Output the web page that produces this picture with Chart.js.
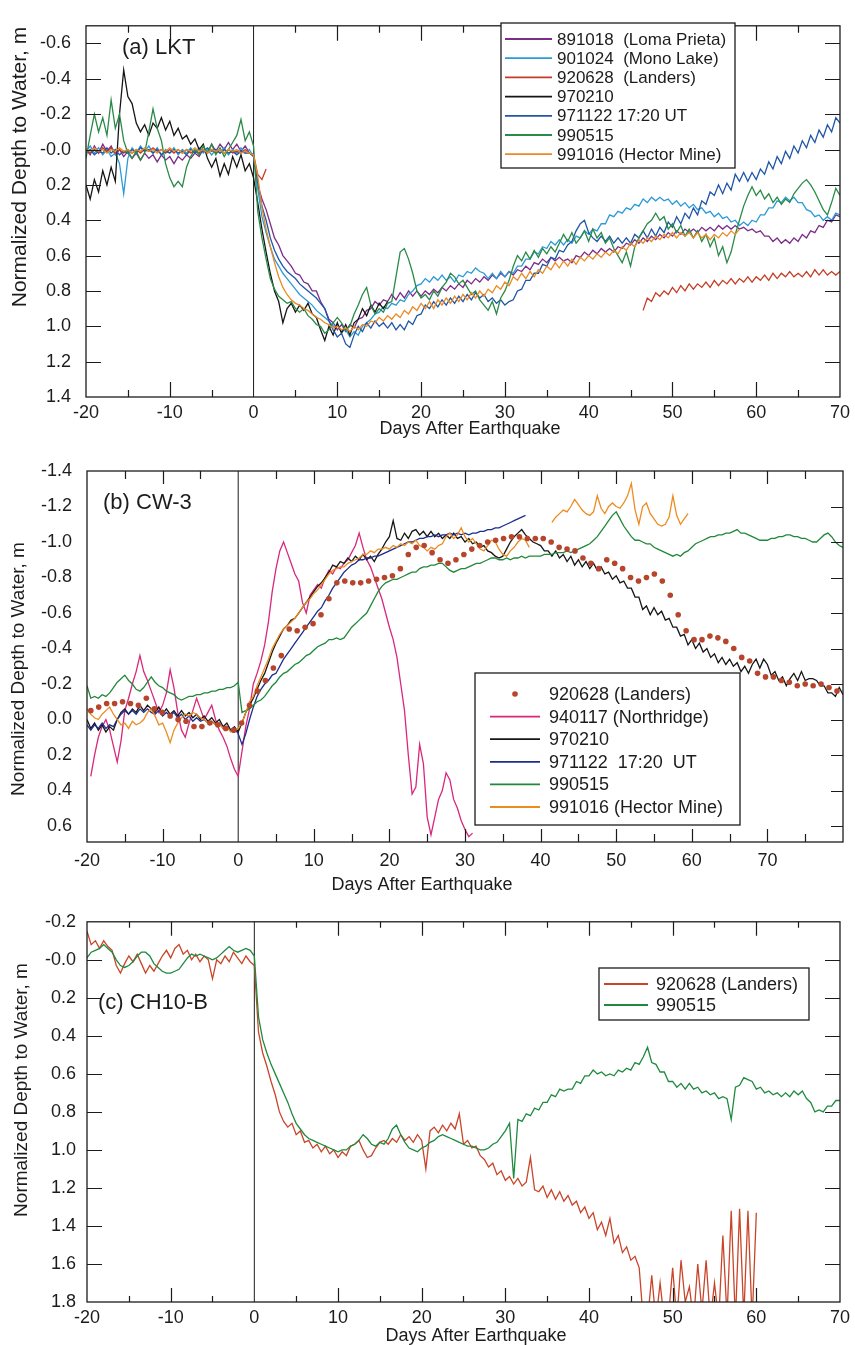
<!DOCTYPE html>
<html>
<head>
<meta charset="utf-8">
<script src="https://cdn.jsdelivr.net/npm/chart.js@4.4.1/dist/chart.umd.min.js"></script>
<style>
  html, body { margin: 0; padding: 0; background: #fff; }
  #page { position: relative; width: 855px; height: 1345px; }
  .panel { position: absolute; left: 0; width: 855px; }
</style>
</head>
<body>
<div id="page">
  <div class="panel" style="top:0;height:445px"><canvas id="chartA" width="855" height="445"></canvas></div>
  <div class="panel" style="top:445px;height:455px"><canvas id="chartB" width="855" height="455"></canvas></div>
  <div class="panel" style="top:900px;height:445px"><canvas id="chartC" width="855" height="445"></canvas></div>
</div>
<script>
const FONT = '"Liberation Sans", Arial, Helvetica, sans-serif';
const INK = '#1c1c1c';

// axis ticks / labels
const xTicksA = [-20, -10, 0, 10, 20, 30, 40, 50, 60, 70];
const xTicksB = [-20, -10, 0, 10, 20, 30, 40, 50, 60, 70];
const xTicksC = [-20, -10, 0, 10, 20, 30, 40, 50, 60, 70];
const yTicksA = [-0.6, -0.4, -0.2, 0, 0.2, 0.4, 0.6, 0.8, 1.0, 1.2, 1.4];
const yLabelsA = ['-0.6', '-0.4', '-0.2', '-0.0', '0.2', '0.4', '0.6', '0.8', '1.0', '1.2', '1.4'];
const yTicksB = [-1.4, -1.2, -1.0, -0.8, -0.6, -0.4, -0.2, 0, 0.2, 0.4, 0.6];
const yLabelsB = ['-1.4', '-1.2', '-1.0', '-0.8', '-0.6', '-0.4', '-0.2', '0.0', '0.2', '0.4', '0.6'];
const yTicksC = [-0.2, 0, 0.2, 0.4, 0.6, 0.8, 1.0, 1.2, 1.4, 1.6, 1.8];
const yLabelsC = ['-0.2', '-0.0', '0.2', '0.4', '0.6', '0.8', '1.0', '1.2', '1.4', '1.6', '1.8'];

// ---- (a) LKT, half-day samples from day -20 ----
const lkt891018 = [
  0.00, 0.03, -0.02, 0.02, -0.03, 0.01, -0.02, 0.03, 0.00, 0.04, 0.01, 0.05, 0.02, 0.06, 0.02, 0.05, 0.03, 0.07, 0.03, 0.06,
  0.04, 0.08, 0.04, 0.06, 0.03, 0.05, 0.02, 0.04, 0.00, 0.02, -0.03, 0.01, -0.03, 0.00, -0.04, 0.00, -0.03, 0.01, -0.02, 0.02,
  0.03, 0.20, 0.28, 0.34, 0.42, 0.50, 0.54, 0.60, 0.63, 0.66, 0.70, 0.71, 0.75, 0.76, 0.80, 0.80, 0.86, 0.90, 0.96, 0.98,
  1.02, 0.99, 1.03, 0.99, 1.01, 0.96, 0.95, 0.91, 0.90, 0.86, 0.88, 0.85, 0.86, 0.82, 0.85, 0.81, 0.84, 0.80, 0.83, 0.80,
  0.83, 0.80, 0.82, 0.79, 0.81, 0.78, 0.80, 0.77, 0.79, 0.76, 0.78, 0.74, 0.76, 0.73, 0.75, 0.72, 0.74, 0.71, 0.73, 0.70,
  0.72, 0.69, 0.71, 0.68, 0.69, 0.66, 0.68, 0.64, 0.65, 0.62, 0.64, 0.61, 0.63, 0.61, 0.63, 0.62, 0.64, 0.60, 0.61, 0.58,
  0.60, 0.57, 0.59, 0.56, 0.58, 0.56, 0.58, 0.55, 0.56, 0.53, 0.54, 0.51, 0.53, 0.50, 0.52, 0.49, 0.51, 0.48, 0.50, 0.47,
  0.49, 0.46, 0.48, 0.45, 0.47, 0.45, 0.47, 0.44, 0.46, 0.44, 0.46, 0.43, 0.45, 0.43, 0.45, 0.43, 0.45, 0.44, 0.46, 0.45,
  0.47, 0.46, 0.49, 0.49, 0.52, 0.50, 0.53, 0.51, 0.53, 0.50, 0.52, 0.48, 0.50, 0.46, 0.47, 0.43, 0.44, 0.40, 0.41, 0.37,
  0.38
];
const lkt901024 = [
  0.01, -0.02, 0.02, -0.01, 0.03, 0.00, 0.04, 0.02, 0.08, 0.25, 0.05, -0.01, 0.02, -0.02, 0.01, -0.02, 0.02, -0.01, 0.03, 0.00,
  0.02, -0.01, 0.03, 0.00, 0.02, -0.01, 0.02, -0.01, 0.02, 0.00, 0.03, 0.00, 0.02, -0.01, 0.03, 0.00, 0.02, -0.01, 0.02, 0.00,
  0.04, 0.22, 0.38, 0.47, 0.55, 0.62, 0.66, 0.70, 0.73, 0.76, 0.79, 0.82, 0.84, 0.86, 0.88, 0.91, 0.93, 0.95, 0.97, 1.00,
  0.99, 1.03, 1.02, 1.06, 1.03, 1.05, 1.00, 0.98, 0.96, 0.93, 0.92, 0.89, 0.90, 0.87, 0.88, 0.85, 0.86, 0.82, 0.80, 0.77,
  0.76, 0.73, 0.75, 0.72, 0.74, 0.71, 0.74, 0.72, 0.75, 0.71, 0.72, 0.69, 0.70, 0.67, 0.69, 0.70, 0.73, 0.70, 0.73, 0.69,
  0.72, 0.69, 0.70, 0.66, 0.66, 0.62, 0.62, 0.58, 0.59, 0.55, 0.56, 0.52, 0.54, 0.51, 0.54, 0.51, 0.53, 0.49, 0.50, 0.46,
  0.48, 0.45, 0.46, 0.42, 0.42, 0.37, 0.38, 0.35, 0.36, 0.33, 0.34, 0.31, 0.32, 0.28, 0.30, 0.27, 0.29, 0.27, 0.29, 0.28,
  0.31, 0.29, 0.32, 0.30, 0.33, 0.31, 0.34, 0.33, 0.36, 0.35, 0.38, 0.36, 0.39, 0.38, 0.41, 0.40, 0.43, 0.41, 0.43, 0.40,
  0.41, 0.37, 0.37, 0.33, 0.33, 0.29, 0.30, 0.27, 0.29, 0.27, 0.30, 0.30, 0.34, 0.35, 0.38, 0.37, 0.40, 0.38, 0.40, 0.36,
  0.37
];
const lkt920628Early = [   // day -20 .. 1.5
  0.00, 0.02, 0.00, 0.02, -0.01, 0.01, -0.01, 0.02, 0.00, 0.02, 0.00, 0.02, 0.00, 0.02, 0.00, 0.01, -0.01, 0.01, 0.00, 0.02,
  0.00, 0.02, 0.00, 0.02, 0.00, 0.02, 0.01, 0.02, 0.00, 0.02, 0.00, 0.02, 0.00, 0.02, 0.00, 0.02, 0.01, 0.02, 0.00, 0.02,
  0.03, 0.14, 0.17, 0.11
];
const lkt920628Late = [    // day 46.5 .. 70
  0.91, 0.84, 0.86, 0.81, 0.83, 0.80, 0.82, 0.78, 0.81, 0.77, 0.80, 0.76, 0.79, 0.76, 0.78, 0.75, 0.78, 0.74, 0.77, 0.74,
  0.76, 0.73, 0.76, 0.73, 0.75, 0.72, 0.75, 0.72, 0.74, 0.71, 0.74, 0.70, 0.73, 0.70, 0.72, 0.69, 0.72, 0.70, 0.72, 0.69,
  0.72, 0.68, 0.71, 0.68, 0.71, 0.69, 0.71, 0.69
];
const lkt970210 = [        // day -20 .. 16
  0.20, 0.28, 0.17, 0.24, 0.12, 0.20, 0.10, 0.18, -0.20, -0.45, -0.30, -0.26, -0.15, -0.10, -0.14, -0.08, -0.15, -0.12, -0.18, -0.11,
  -0.16, -0.08, -0.12, -0.06, -0.08, -0.03, -0.06, 0.00, -0.03, 0.05, 0.10, 0.05, 0.15, 0.08, 0.14, 0.04, 0.10, 0.03, 0.12, 0.08,
  0.16, 0.30, 0.45, 0.58, 0.70, 0.80, 0.86, 0.98, 0.90, 0.87, 0.92, 0.88, 0.91, 0.87, 0.93, 0.95, 1.02, 1.08, 1.00, 1.05,
  0.98, 1.04, 0.99, 1.05, 0.98, 0.96, 0.90, 0.94, 0.88, 0.92, 0.87, 0.90, 0.86
];
const lkt971122 = [
  0.02, 0.00, 0.03, 0.01, 0.02, -0.01, 0.02, 0.00, 0.03, 0.01, 0.02, 0.00, 0.02, -0.01, 0.01, 0.00, 0.02, 0.00, 0.03, 0.01,
  0.02, 0.00, 0.02, 0.01, 0.03, 0.00, 0.02, 0.00, 0.01, -0.01, 0.01, 0.00, 0.02, 0.00, 0.02, 0.01, 0.03, 0.01, 0.02, 0.02,
  0.04, 0.18, 0.32, 0.40, 0.50, 0.57, 0.62, 0.66, 0.69, 0.71, 0.73, 0.76, 0.78, 0.80, 0.82, 0.84, 0.87, 0.90, 0.97, 1.02,
  1.06, 1.04, 1.10, 1.12, 1.05, 1.00, 1.03, 0.98, 1.01, 0.97, 1.00, 0.98, 1.01, 0.98, 1.02, 0.99, 1.02, 0.97, 0.99, 0.94,
  0.93, 0.88, 0.90, 0.86, 0.89, 0.85, 0.88, 0.84, 0.87, 0.83, 0.86, 0.82, 0.85, 0.81, 0.84, 0.82, 0.86, 0.84, 0.87, 0.85,
  0.88, 0.86, 0.85, 0.80, 0.79, 0.74, 0.74, 0.70, 0.70, 0.65, 0.66, 0.61, 0.62, 0.57, 0.58, 0.54, 0.52, 0.46, 0.42, 0.40,
  0.47, 0.50, 0.52, 0.49, 0.52, 0.49, 0.53, 0.50, 0.53, 0.50, 0.53, 0.48, 0.50, 0.46, 0.50, 0.45, 0.49, 0.44, 0.47, 0.41,
  0.44, 0.38, 0.42, 0.36, 0.39, 0.33, 0.37, 0.29, 0.31, 0.24, 0.26, 0.20, 0.25, 0.19, 0.23, 0.14, 0.18, 0.13, 0.18, 0.13,
  0.17, 0.11, 0.14, 0.07, 0.11, 0.04, 0.08, 0.01, 0.05, -0.02, 0.02, -0.05, -0.01, -0.08, -0.04, -0.11, -0.07, -0.14, -0.10, -0.18,
  -0.15
];
const lkt990515 = [
  0.05, -0.08, -0.20, -0.10, -0.18, -0.08, -0.28, -0.12, -0.20, -0.05, 0.02, 0.05, 0.01, 0.06, 0.02, -0.10, -0.23, -0.12, -0.05, 0.08,
  0.16, 0.21, 0.18, 0.21, 0.10, 0.04, 0.00, 0.03, -0.02, 0.02, -0.03, 0.03, -0.01, 0.04, 0.00, -0.04, -0.08, -0.17, -0.05, -0.10,
  -0.02, 0.35, 0.50, 0.62, 0.73, 0.79, 0.83, 0.85, 0.87, 0.86, 0.90, 0.92, 0.90, 0.94, 0.96, 0.99, 1.00, 1.04, 1.02, 0.98,
  0.95, 0.98, 1.02, 1.00, 0.93, 0.88, 0.82, 0.78, 0.88, 0.93, 0.90, 0.92, 0.87, 0.86, 0.72, 0.58, 0.56, 0.62, 0.70, 0.80,
  0.84, 0.82, 0.85, 0.80, 0.83, 0.78, 0.75, 0.70, 0.72, 0.76, 0.74, 0.78, 0.82, 0.80, 0.85, 0.88, 0.91, 0.86, 0.93, 0.84,
  0.80, 0.74, 0.66, 0.60, 0.63, 0.58, 0.62, 0.57, 0.61, 0.56, 0.59, 0.55, 0.58, 0.53, 0.48, 0.52, 0.47, 0.53, 0.50, 0.46,
  0.52, 0.45, 0.50, 0.47, 0.53, 0.50, 0.56, 0.60, 0.64, 0.58, 0.66, 0.55, 0.50, 0.46, 0.42, 0.40, 0.36, 0.40, 0.38, 0.45,
  0.42, 0.47, 0.43, 0.49, 0.45, 0.50, 0.46, 0.52, 0.48, 0.55, 0.50, 0.60, 0.55, 0.64, 0.58, 0.48, 0.40, 0.32, 0.26, 0.21,
  0.26, 0.23, 0.28, 0.25, 0.30, 0.27, 0.31, 0.28, 0.30, 0.25, 0.22, 0.19, 0.17, 0.20, 0.24, 0.29, 0.34, 0.37, 0.30, 0.22,
  0.26
];
const lkt991016 = [        // day -20 .. 58
  0.00, 0.01, -0.01, 0.01, 0.00, 0.02, 0.00, 0.01, -0.01, 0.01, 0.00, 0.02, 0.00, 0.01, -0.01, 0.01, 0.00, 0.02, 0.00, 0.01,
  -0.01, 0.01, 0.00, 0.02, 0.00, 0.01, -0.01, 0.01, 0.00, 0.02, 0.00, 0.01, 0.00, 0.02, 0.00, 0.01, 0.00, 0.02, 0.01, 0.02,
  0.03, 0.15, 0.33, 0.45, 0.55, 0.64, 0.72, 0.78, 0.82, 0.85, 0.87, 0.88, 0.90, 0.91, 0.93, 0.95, 0.96, 0.98, 0.99, 1.01,
  1.00, 1.02, 1.01, 1.03, 1.00, 1.02, 0.99, 1.00, 0.97, 0.98, 0.95, 0.97, 0.94, 0.96, 0.93, 0.95, 0.91, 0.93, 0.89, 0.91,
  0.87, 0.90, 0.86, 0.90, 0.85, 0.88, 0.84, 0.87, 0.83, 0.86, 0.82, 0.85, 0.81, 0.84, 0.80, 0.83, 0.79, 0.81, 0.77, 0.79,
  0.75, 0.77, 0.72, 0.74, 0.70, 0.73, 0.69, 0.72, 0.68, 0.70, 0.66, 0.68, 0.64, 0.67, 0.63, 0.66, 0.62, 0.65, 0.61, 0.63,
  0.60, 0.62, 0.59, 0.61, 0.58, 0.60, 0.57, 0.59, 0.55, 0.57, 0.53, 0.55, 0.51, 0.53, 0.50, 0.52, 0.49, 0.51, 0.48, 0.50,
  0.47, 0.50, 0.47, 0.49, 0.47, 0.50, 0.47, 0.50, 0.48, 0.51, 0.48, 0.50, 0.47, 0.49, 0.46, 0.48, 0.45
];

// ---- (b) CW-3 ----
const cw3Landers = [       // dots, every 1.05 day from -19.5
  -0.05, -0.07, -0.09, -0.09, -0.10, -0.09, -0.08, -0.12, -0.06, -0.04, -0.02, 0.00, 0.01, 0.04, 0.04, 0.02, 0.03, 0.05, 0.06, 0.02,
  -0.08, -0.16, -0.22, -0.29, -0.36, -0.51, -0.50, -0.52, -0.54, -0.59, -0.68, -0.77, -0.78, -0.77, -0.77, -0.78, -0.79, -0.80, -0.81, -0.85,
  -0.93, -0.97, -0.98, -0.94, -0.90, -0.88, -0.90, -0.93, -0.96, -0.98, -1.00, -1.01, -1.02, -1.03, -1.03, -1.02, -1.02, -1.02, -1.00, -0.97,
  -0.96, -0.95, -0.91, -0.88, -0.85, -0.90, -0.88, -0.85, -0.80, -0.78, -0.80, -0.82, -0.78, -0.70, -0.59, -0.50, -0.45, -0.45, -0.47, -0.46,
  -0.44, -0.40, -0.35, -0.33, -0.26, -0.24, -0.24, -0.22, -0.21, -0.19, -0.20, -0.19, -0.20, -0.18, -0.16
];
const cw3Northridge = [    // day -19.5 .. 31
  0.32, 0.20, 0.10, 0.04, 0.00, 0.06, 0.15, 0.24, 0.12, -0.05, -0.12, -0.20, -0.27, -0.36, -0.27, -0.22, -0.16, -0.10, -0.04, -0.08,
  -0.15, -0.28, -0.18, -0.04, 0.06, 0.10, 0.02, -0.05, -0.12, -0.06, 0.00, -0.04, -0.08, 0.00, 0.06, 0.10, 0.15, 0.22, 0.28, 0.32,
  0.18, 0.04, -0.06, -0.20, -0.26, -0.33, -0.42, -0.55, -0.72, -0.85, -0.95, -1.00, -0.94, -0.88, -0.82, -0.78, -0.66, -0.60, -0.70, -0.73,
  -0.76, -0.74, -0.80, -0.84, -0.82, -0.86, -0.85, -0.88, -0.90, -0.94, -0.98, -1.05, -0.97, -0.90, -0.86, -0.80, -0.74, -0.68, -0.60, -0.52,
  -0.45, -0.35, -0.20, -0.05, 0.20, 0.42, 0.38, 0.14, 0.25, 0.55, 0.65, 0.55, 0.45, 0.40, 0.30, 0.34, 0.45, 0.50, 0.57, 0.62,
  0.66, 0.64
];
const cw3_970210 = [
  0.00, 0.05, 0.02, 0.06, 0.03, 0.07, 0.04, 0.06, 0.00, -0.04, -0.06, -0.03, -0.06, -0.04, -0.08, -0.05, -0.08, -0.06, -0.04, -0.07,
  -0.03, -0.06, -0.03, -0.05, -0.02, -0.05, -0.02, -0.04, -0.01, -0.03, 0.00, -0.02, 0.01, -0.01, 0.02, 0.00, 0.04, 0.02, 0.06, 0.04,
  0.07, 0.02, -0.04, -0.08, -0.12, -0.17, -0.22, -0.26, -0.32, -0.38, -0.43, -0.47, -0.51, -0.53, -0.56, -0.57, -0.60, -0.63, -0.66, -0.69,
  -0.72, -0.75, -0.77, -0.80, -0.83, -0.87, -0.86, -0.89, -0.88, -0.91, -0.89, -0.92, -0.90, -0.93, -0.90, -0.92, -0.89, -0.93, -0.96, -1.00,
  -1.03, -1.12, -1.02, -1.01, -1.05, -1.02, -1.06, -1.07, -1.04, -1.06, -1.03, -1.06, -1.03, -1.05, -1.02, -1.04, -1.02, -1.05, -1.02, -1.03,
  -1.00, -1.02, -0.99, -1.00, -0.97, -0.98, -0.95, -0.94, -0.92, -0.91, -0.92, -0.96, -1.00, -1.03, -1.05, -1.07, -1.04, -1.02, -1.00, -0.99,
  -0.98, -0.95, -0.95, -0.92, -0.95, -0.91, -0.93, -0.89, -0.92, -0.87, -0.90, -0.86, -0.89, -0.85, -0.88, -0.84, -0.86, -0.82, -0.83, -0.79,
  -0.81, -0.77, -0.78, -0.74, -0.74, -0.69, -0.69, -0.62, -0.64, -0.59, -0.63, -0.59, -0.61, -0.56, -0.57, -0.52, -0.52, -0.47, -0.48, -0.42,
  -0.45, -0.40, -0.43, -0.38, -0.40, -0.35, -0.37, -0.32, -0.35, -0.31, -0.34, -0.30, -0.32, -0.27, -0.30, -0.26, -0.31, -0.34, -0.29, -0.34,
  -0.31, -0.25, -0.27, -0.22, -0.24, -0.19, -0.23, -0.26, -0.22, -0.27, -0.22, -0.23, -0.23, -0.22, -0.19, -0.19, -0.15, -0.15, -0.13, -0.18,
  -0.14
];
const cw3_971122 = [       // day -20 .. 38
  0.03, 0.06, 0.03, 0.05, 0.02, 0.05, 0.03, 0.04, 0.00, -0.03, -0.05, -0.03, -0.05, -0.03, -0.06, -0.04, -0.06, -0.04, -0.03, -0.05,
  -0.02, -0.04, -0.02, -0.04, -0.01, -0.03, 0.00, -0.02, 0.01, -0.01, 0.01, 0.00, 0.02, 0.01, 0.03, 0.02, 0.05, 0.04, 0.06, 0.05,
  0.08, 0.14, 0.08, 0.00, -0.07, -0.13, -0.17, -0.20, -0.22, -0.25, -0.26, -0.30, -0.34, -0.37, -0.40, -0.43, -0.46, -0.49, -0.52, -0.55,
  -0.58, -0.61, -0.63, -0.67, -0.70, -0.74, -0.77, -0.80, -0.83, -0.85, -0.87, -0.88, -0.90, -0.90, -0.91, -0.91, -0.92, -0.92, -0.93, -0.94,
  -0.95, -0.96, -0.97, -0.98, -0.99, -1.00, -1.00, -1.01, -1.02, -1.02, -1.03, -1.03, -1.04, -1.03, -1.04, -1.04, -1.05, -1.04, -1.05, -1.04,
  -1.05, -1.04, -1.05, -1.05, -1.06, -1.06, -1.07, -1.07, -1.08, -1.08, -1.09, -1.10, -1.11, -1.12, -1.13, -1.14, -1.15
];
const cw3_990515 = [
  -0.19, -0.12, -0.13, -0.12, -0.14, -0.13, -0.15, -0.18, -0.21, -0.23, -0.25, -0.22, -0.20, -0.17, -0.16, -0.18, -0.21, -0.24, -0.21, -0.19,
  -0.18, -0.16, -0.15, -0.14, -0.12, -0.11, -0.12, -0.13, -0.13, -0.14, -0.14, -0.15, -0.15, -0.16, -0.16, -0.17, -0.17, -0.18, -0.18, -0.19,
  -0.21, -0.04, -0.05, -0.06, -0.08, -0.10, -0.11, -0.13, -0.16, -0.19, -0.21, -0.24, -0.26, -0.27, -0.29, -0.31, -0.32, -0.34, -0.36, -0.37,
  -0.39, -0.41, -0.42, -0.43, -0.45, -0.45, -0.46, -0.45, -0.46, -0.49, -0.52, -0.54, -0.56, -0.58, -0.60, -0.64, -0.68, -0.72, -0.75, -0.77,
  -0.78, -0.79, -0.79, -0.80, -0.81, -0.82, -0.83, -0.83, -0.85, -0.86, -0.86, -0.87, -0.87, -0.88, -0.88, -0.86, -0.84, -0.83, -0.84, -0.85,
  -0.85, -0.86, -0.87, -0.88, -0.88, -0.89, -0.90, -0.91, -0.91, -0.90, -0.90, -0.91, -0.90, -0.91, -0.91, -0.92, -0.91, -0.92, -0.92, -0.92,
  -0.92, -0.93, -0.93, -0.93, -0.94, -0.94, -0.94, -0.95, -0.94, -0.95, -0.96, -0.97, -0.98, -0.99, -1.01, -1.03, -1.06, -1.09, -1.12, -1.15,
  -1.17, -1.13, -1.09, -1.06, -1.03, -1.01, -1.01, -1.00, -0.99, -0.99, -0.97, -0.96, -0.95, -0.94, -0.93, -0.92, -0.93, -0.92, -0.94, -0.95,
  -0.97, -0.99, -1.00, -1.01, -1.02, -1.03, -1.03, -1.04, -1.04, -1.05, -1.05, -1.06, -1.07, -1.05, -1.05, -1.04, -1.03, -1.02, -1.01, -1.01,
  -1.01, -1.02, -1.02, -1.03, -1.03, -1.04, -1.04, -1.03, -1.03, -1.02, -1.02, -1.01, -1.00, -1.00, -1.02, -1.04, -1.05, -1.03, -1.00, -0.98,
  -0.97
];
const cw3HectorEarly = [   // day -20 .. 38.5
  -0.06, -0.03, -0.01, 0.00, -0.03, -0.05, -0.07, -0.03, 0.00, 0.03, 0.02, 0.05, 0.01, 0.03, 0.02, 0.00, -0.04, -0.06, -0.02, 0.03,
  0.02, 0.07, 0.13, 0.06, 0.02, -0.01, -0.03, -0.02, -0.04, -0.03, -0.01, 0.00, 0.02, 0.01, 0.03, 0.02, 0.05, 0.04, 0.07, 0.06,
  0.05, 0.02, -0.04, -0.10, -0.13, -0.19, -0.24, -0.29, -0.34, -0.40, -0.44, -0.48, -0.51, -0.53, -0.55, -0.57, -0.60, -0.63, -0.66, -0.68,
  -0.71, -0.73, -0.76, -0.79, -0.82, -0.84, -0.85, -0.86, -0.86, -0.88, -0.89, -0.90, -0.91, -0.93, -0.93, -0.95, -0.94, -0.96, -0.96, -0.97,
  -0.96, -0.98, -0.97, -0.99, -0.98, -1.00, -0.99, -1.01, -0.98, -0.97, -0.95, -0.97, -0.96, -0.98, -0.99, -1.03, -1.05, -1.02, -1.04, -1.08,
  -1.03, -1.00, -1.02, -0.99, -0.96, -0.95, -0.98, -1.01, -1.00, -0.96, -0.93, -0.92, -0.95, -0.97, -1.00, -1.02, -1.01, -0.97
];
const cw3HectorLate = [    // day 41.5 .. 59.5
  -1.11, -1.14, -1.16, -1.18, -1.17, -1.20, -1.24, -1.21, -1.18, -1.16, -1.15, -1.17, -1.26, -1.19, -1.16, -1.20, -1.22, -1.20, -1.19, -1.22,
  -1.26, -1.33, -1.18, -1.10, -1.20, -1.22, -1.16, -1.13, -1.10, -1.09, -1.10, -1.14, -1.26, -1.15, -1.10, -1.13, -1.16
];

// ---- (c) CH10-B ----
const ch10Landers = [      // day -20 .. 60
  -0.15, -0.08, -0.10, -0.06, -0.10, -0.07, -0.05, 0.03, 0.07, 0.02, -0.02, 0.01, -0.03, 0.02, 0.07, 0.03, 0.06, 0.02, -0.02, -0.05,
  -0.01, -0.06, -0.08, -0.03, -0.05, 0.00, -0.03, 0.01, -0.02, 0.00, 0.10, 0.00, 0.02, -0.02, 0.01, -0.04, -0.01, 0.02, -0.02, 0.01,
  0.03, 0.38, 0.49, 0.56, 0.64, 0.71, 0.80, 0.85, 0.88, 0.86, 0.92, 0.90, 0.96, 0.95, 0.99, 0.97, 1.01, 0.98, 1.02, 1.00,
  1.04, 1.01, 1.03, 0.98, 0.97, 0.95, 1.00, 1.04, 1.03, 0.99, 0.96, 0.95, 0.97, 0.94, 0.96, 0.92, 0.95, 0.93, 0.96, 0.92,
  0.95, 1.10, 0.90, 0.88, 0.91, 0.87, 0.90, 0.86, 0.89, 0.81, 0.97, 0.95, 0.99, 0.98, 1.03, 1.05, 1.09, 1.07, 1.13, 1.11,
  1.16, 1.14, 1.18, 1.15, 1.19, 1.17, 1.04, 1.21, 1.22, 1.19, 1.25, 1.21, 1.26, 1.22, 1.27, 1.24, 1.29, 1.27, 1.33, 1.30,
  1.36, 1.33, 1.42, 1.38, 1.45, 1.36, 1.49, 1.45, 1.54, 1.51, 1.58, 1.56, 1.62, 1.90, 1.90, 1.66, 1.90, 1.70, 1.90, 1.88,
  1.62, 1.90, 1.58, 1.80, 1.72, 1.90, 1.60, 1.85, 1.58, 1.90, 1.70, 1.90, 1.45, 1.88, 1.32, 1.90, 1.31, 1.88, 1.32, 1.90,
  1.33
];
const ch10_990515 = [
  -0.01, -0.04, -0.05, -0.06, -0.08, -0.06, -0.04, 0.00, 0.03, 0.04, 0.03, 0.01, -0.02, -0.04, -0.04, -0.02, 0.02, 0.04, 0.06, 0.07,
  0.07, 0.06, 0.05, 0.02, -0.01, -0.03, -0.02, -0.03, -0.02, -0.01, 0.00, -0.01, -0.03, -0.05, -0.07, -0.05, -0.04, -0.05, -0.06, -0.05,
  -0.02, 0.30, 0.42, 0.49, 0.55, 0.60, 0.65, 0.70, 0.75, 0.81, 0.86, 0.89, 0.92, 0.94, 0.95, 0.96, 0.97, 0.98, 0.99, 1.00,
  1.01, 1.00, 1.00, 0.98, 0.97, 0.95, 0.92, 0.94, 0.97, 0.98, 0.96, 0.97, 0.94, 0.89, 0.87, 0.92, 0.96, 0.99, 1.00, 1.01,
  0.99, 0.98, 0.96, 0.95, 0.93, 0.92, 0.93, 0.94, 0.95, 0.96, 0.97, 0.98, 0.98, 0.99, 1.00, 1.00, 0.99, 0.97, 0.96, 0.93,
  0.90, 0.86, 1.15, 0.84, 0.85, 0.81, 0.82, 0.78, 0.79, 0.75, 0.75, 0.71, 0.72, 0.68, 0.69, 0.68, 0.68, 0.64, 0.65, 0.61,
  0.61, 0.58, 0.60, 0.59, 0.61, 0.60, 0.61, 0.58, 0.59, 0.57, 0.58, 0.54, 0.55, 0.51, 0.46, 0.54, 0.55, 0.59, 0.59, 0.64,
  0.64, 0.67, 0.65, 0.68, 0.65, 0.68, 0.67, 0.70, 0.69, 0.71, 0.70, 0.73, 0.72, 0.73, 0.84, 0.67, 0.66, 0.62, 0.63, 0.64,
  0.68, 0.67, 0.70, 0.69, 0.71, 0.70, 0.72, 0.70, 0.72, 0.69, 0.71, 0.69, 0.73, 0.75, 0.80, 0.79, 0.80, 0.77, 0.77, 0.74,
  0.74
];

// samples -> points
function seg(start, step, values) {
  return values.map((v, i) => ({ x: +(start + i * step).toFixed(2), y: v }));
}
// join pieces with a break in between
function pieces(...parts) {
  return parts.reduce((all, p, i) => i ? all.concat([{ x: p[0].x - 0.01, y: null }], p) : p, []);
}
function line(label, color, data) {
  return { label, data, borderColor: color, backgroundColor: color };
}

// inward ticks, frame, zero line, panel text and legend box
const decor = {
  id: 'decor',
  beforeDatasetsDraw(chart, args, o) {
    const { ctx, chartArea: a, scales: { x } } = chart;
    const px = x.getPixelForValue(0);
    ctx.save();
    ctx.strokeStyle = INK;
    ctx.lineWidth = 1;
    ctx.beginPath();
    ctx.moveTo(px, a.top);
    ctx.lineTo(px, a.bottom);
    ctx.stroke();
    ctx.restore();
  },
  afterDraw(chart, args, o) {
    const { ctx, chartArea: a, scales: { x, y } } = chart;
    ctx.save();
    ctx.strokeStyle = INK;
    ctx.lineWidth = 1.3;
    ctx.strokeRect(a.left, a.top, a.right - a.left, a.bottom - a.top);

    ctx.beginPath();
    for (let v = x.min + 5; v < x.max; v += 5) {
      if (v === 0) continue;
      const px = Math.round(x.getPixelForValue(v)) + 0.5;
      const len = v % 10 === 0 ? o.majorLen : o.minorLen;
      ctx.moveTo(px, a.top); ctx.lineTo(px, a.top + len);
      ctx.moveTo(px, a.bottom); ctx.lineTo(px, a.bottom - len);
    }
    o.yTicks.forEach(v => {
      if (Math.abs(v - y.min) < 1e-6 || Math.abs(v - y.max) < 1e-6) return;
      const py = Math.round(y.getPixelForValue(v)) + 0.5;
      if (o.leftTicks) { ctx.moveTo(a.left, py); ctx.lineTo(a.left + o.yLen, py); }
      ctx.moveTo(a.right, py); ctx.lineTo(a.right - o.yLen, py);
    });
    ctx.lineWidth = 1.2;
    ctx.stroke();

    ctx.fillStyle = INK;
    ctx.textBaseline = 'middle';
    ctx.textAlign = 'left';
    ctx.font = `22px ${FONT}`;
    ctx.fillText(o.label.text, o.label.x, o.label.y);

    ctx.textAlign = 'center';
    ctx.font = `18px ${FONT}`;
    ctx.fillText(o.xTitle.text, o.xTitle.x, o.xTitle.y);
    ctx.save();
    ctx.translate(o.yTitle.x, o.yTitle.y);
    ctx.rotate(-Math.PI / 2);
    ctx.font = `${o.yTitle.size}px ${FONT}`;
    ctx.fillText(o.yTitle.text, 0, 0);
    ctx.restore();

    const L = o.legend;
    ctx.fillStyle = '#fff';
    ctx.fillRect(L.x, L.y, L.w, L.h);
    ctx.lineWidth = 1.3;
    ctx.strokeRect(L.x, L.y, L.w, L.h);
    ctx.textAlign = 'left';
    ctx.font = `${L.size}px ${FONT}`;
    chart.data.datasets.forEach((ds, i) => {
      const yy = L.firstRow + i * L.rowGap;
      if (ds.showLine === false) {
        ctx.fillStyle = ds.pointBackgroundColor;
        ctx.beginPath();
        ctx.arc((L.lineX0 + L.lineX1) / 2, yy, ds.pointRadius, 0, Math.PI * 2);
        ctx.fill();
      } else {
        ctx.strokeStyle = ds.borderColor;
        ctx.lineWidth = 1.8;
        ctx.beginPath();
        ctx.moveTo(L.lineX0, yy);
        ctx.lineTo(L.lineX1, yy);
        ctx.stroke();
      }
      ctx.fillStyle = INK;
      ctx.fillText(ds.label, L.textX, yy + 1);
    });
    ctx.restore();
  }
};

function makePanel(id, p) {
  p.datasets.forEach((ds, i) => { if (ds.order === undefined) ds.order = -i; });
  return new Chart(document.getElementById(id), {
    type: 'line',
    data: { datasets: p.datasets },
    plugins: [decor],
    options: {
      responsive: false,
      animation: false,
      devicePixelRatio: 1,
      layout: { padding: { left: 0, top: p.area.top, right: 855 - p.area.right, bottom: 0 } },
      elements: { point: { radius: 0 }, line: { borderWidth: 1.3, tension: 0 } },
      plugins: {
        legend: { display: false },
        tooltip: { enabled: false },
        decor: p.decor
      },
      scales: {
        x: {
          type: 'linear', min: p.xMin, max: p.xMax,
          grid: { display: false, drawTicks: false },
          border: { display: false },
          afterFit: s => { s.height = p.height - p.area.bottom; },
          afterBuildTicks: s => { s.ticks = p.xTicks.map(v => ({ value: v })); },
          ticks: { autoSkip: false, maxRotation: 0, padding: p.xPad, color: INK,
                   font: { family: FONT, size: 18 }, callback: v => String(v) }
        },
        y: {
          type: 'linear', reverse: true, min: p.yMin, max: p.yMax,
          grid: { display: false, drawTicks: false },
          border: { display: false },
          afterFit: s => { s.width = p.area.left; },
          afterBuildTicks: s => { s.ticks = p.yTicks.map(v => ({ value: v })); },
          ticks: { padding: p.yPad, color: INK, font: { family: FONT, size: 18 },
                   callback: (v, i) => p.yLabels[i] }
        }
      }
    }
  });
}

makePanel('chartA', {
  height: 445, area: { left: 86, top: 11, right: 840, bottom: 397 },
  xMin: -20, xMax: 70, yMin: -0.7, yMax: 1.4,
  xTicks: xTicksA, yTicks: yTicksA, yLabels: yLabelsA, xPad: 5, yPad: 15,
  datasets: [
    line('891018  (Loma Prieta)', '#7b2d88', seg(-20, 0.5, lkt891018)),
    line('901024  (Mono Lake)', '#2a9ad8', seg(-20, 0.5, lkt901024)),
    line('920628  (Landers)', '#c43d26', pieces(seg(-20, 0.5, lkt920628Early), seg(46.5, 0.5, lkt920628Late))),
    line('970210', '#151515', seg(-20, 0.5, lkt970210)),
    line('971122 17:20 UT', '#1f56a6', seg(-20, 0.5, lkt971122)),
    line('990515', '#2a8a48', seg(-20, 0.5, lkt990515)),
    line('991016 (Hector Mine)', '#e98a24', seg(-20, 0.5, lkt991016))
  ],
  decor: {
    yTicks: yTicksA, leftTicks: true, majorLen: 15, minorLen: 7, yLen: 15,
    label: { text: '(a) LKT', x: 122, y: 48 },
    xTitle: { text: 'Days After Earthquake', x: 470, y: 429 },
    yTitle: { text: 'Normalized Depth to Water, m', x: 20, y: 167, size: 21 },
    legend: { x: 501, y: 23, w: 234, h: 145, firstRow: 39, rowGap: 19.2, lineX0: 505, lineX1: 552, textX: 557, size: 17 }
  }
});

makePanel('chartB', {
  height: 455, area: { left: 87, top: 26, right: 843, bottom: 397 },
  xMin: -20, xMax: 80, yMin: -1.4, yMax: 0.69,
  xTicks: xTicksB, yTicks: yTicksB, yLabels: yLabelsB, xPad: 8, yPad: 15,
  datasets: [
    { label: '920628 (Landers)', data: seg(-19.5, 1.05, cw3Landers), showLine: false,
      pointRadius: 2.8, pointBackgroundColor: '#b6452c', pointBorderWidth: 0, borderColor: '#b6452c', order: -100 },
    line('940117 (Northridge)', '#d8277d', seg(-19.5, 0.5, cw3Northridge)),
    line('970210', '#151515', seg(-20, 0.5, cw3_970210)),
    line('971122  17:20  UT', '#1d2c8c', seg(-20, 0.5, cw3_971122)),
    line('990515', '#22883a', seg(-20, 0.5, cw3_990515)),
    line('991016 (Hector Mine)', '#ec8c20', pieces(seg(-20, 0.5, cw3HectorEarly), seg(41.5, 0.5, cw3HectorLate)))
  ],
  decor: {
    yTicks: yTicksB, leftTicks: false, majorLen: 13, minorLen: 8, yLen: 12,
    label: { text: '(b) CW-3', x: 103, y: 58 },
    xTitle: { text: 'Days After Earthquake', x: 422, y: 440 },
    yTitle: { text: 'Normalized Depth to Water, m', x: 19, y: 224, size: 19 },
    legend: { x: 475, y: 228, w: 265, h: 152, firstRow: 249, rowGap: 22.6, lineX0: 490, lineX1: 540, textX: 549, size: 18 }
  }
});

makePanel('chartC', {
  height: 445, area: { left: 87, top: 17, right: 841, bottom: 402 },
  xMin: -20, xMax: 70, yMin: -0.2, yMax: 1.8,
  xTicks: xTicksC, yTicks: yTicksC, yLabels: yLabelsC, xPad: 5, yPad: 11,
  datasets: [
    line('920628 (Landers)', '#c8452a', seg(-20, 0.5, ch10Landers)),
    line('990515', '#1f8a3e', seg(-20, 0.5, ch10_990515))
  ],
  decor: {
    yTicks: yTicksC, leftTicks: true, majorLen: 14, minorLen: 6, yLen: 15,
    label: { text: '(c) CH10-B', x: 98, y: 103 },
    xTitle: { text: 'Days After Earthquake', x: 476, y: 436 },
    yTitle: { text: 'Normalized Depth to Water, m', x: 22, y: 190, size: 19 },
    legend: { x: 599, y: 68, w: 210, h: 52, firstRow: 84, rowGap: 21, lineX0: 604, lineX1: 648, textX: 656, size: 18 }
  }
});
</script>
</body>
</html>
